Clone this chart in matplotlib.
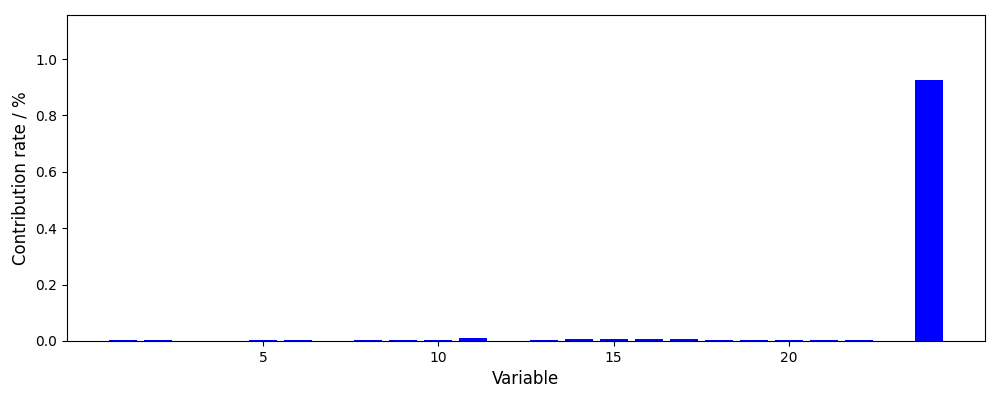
import matplotlib
matplotlib.use("Agg")
import matplotlib.pyplot as plt

variables = list(range(1, 25))
contribution = [0.003, 0.003, 0.0, 0.0, 0.003, 0.003, 0.0, 0.003, 0.003, 0.003,
                0.010, 0.0, 0.003, 0.006, 0.006, 0.006, 0.006, 0.003, 0.003, 0.003,
                0.003, 0.003, 0.0, 0.925]
x_ticks = [5, 10, 15, 20]

fig = plt.figure(figsize=(10, 4), dpi=100)
ax = fig.add_axes([0.067, 0.1475, 0.918, 0.815])
ax.bar(variables, contribution, color="blue")
ax.set_xticks(x_ticks)
ax.set_ylim(0, max(contribution) * 1.25)
ax.set_xlabel("Variable", fontsize=12)
ax.set_ylabel("Contribution rate / %", fontsize=12)
fig.savefig("out.png", dpi=100)
